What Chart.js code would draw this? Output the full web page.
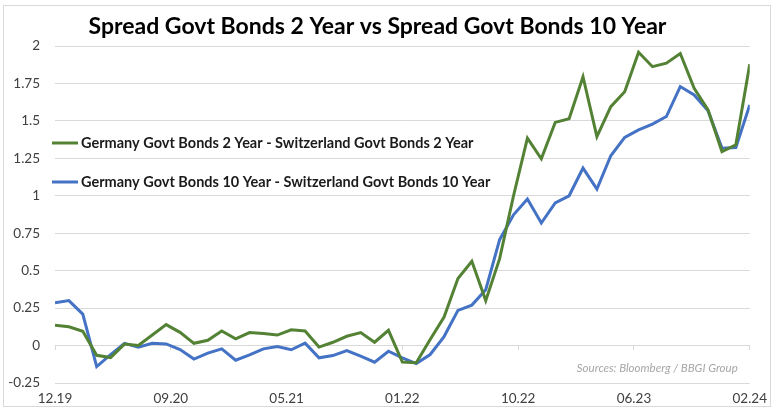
<!DOCTYPE html>
<html>
<head>
<meta charset="utf-8">
<script src="https://cdn.jsdelivr.net/npm/chart.js@4"></script>
<style>
  body { margin: 0; background: #fff; }
  .wrap { position: relative; width: 775px; height: 409px; }
  .frame { position: absolute; left: 3px; top: 5px; width: 768px; height: 402px; border: 1px solid #d9d9d9; box-sizing: border-box; pointer-events: none; }
</style>
</head>
<body>
<div class="wrap">
  <canvas id="spreads" width="775" height="409"></canvas>
  <div class="frame"></div>
</div>
<script>
// monthly, 12.19 ... 02.24
const xLabels = ['12.19', '09.20', '05.21', '01.22', '10.22', '06.23', '02.24'];
const seriesNames = [
  'Germany Govt Bonds 2 Year - Switzerland Govt Bonds 2 Year',
  'Germany Govt Bonds 10 Year - Switzerland Govt Bonds 10 Year'
];
const spread2y = [
  0.135, 0.125, 0.095, -0.065, -0.08, 0.01, 0.0, 0.07, 0.14, 0.088,
  0.015, 0.035, 0.097, 0.045, 0.087, 0.08, 0.07, 0.105, 0.097, -0.01,
  0.022, 0.062, 0.087, 0.022, 0.102, -0.11, -0.115, 0.04, 0.19, 0.447,
  0.563, 0.30, 0.58, 1.0, 1.385, 1.247, 1.49, 1.515, 1.795, 1.395,
  1.595, 1.695, 1.958, 1.862, 1.885, 1.95, 1.718, 1.573, 1.295, 1.34,
  1.878
];
const spread10y = [
  0.285, 0.30, 0.21, -0.14, -0.06, 0.015, -0.011, 0.015, 0.011, -0.027,
  -0.09, -0.05, -0.022, -0.098, -0.062, -0.022, -0.006, -0.028, 0.016, -0.082,
  -0.067, -0.033, -0.071, -0.111, -0.038, -0.082, -0.12, -0.06, 0.06, 0.235,
  0.27, 0.373, 0.707, 0.873, 0.978, 0.818, 0.953, 1.0, 1.185, 1.045,
  1.267, 1.39, 1.44, 1.478, 1.529, 1.729, 1.673, 1.567, 1.318, 1.322,
  1.607
];

const lastIdx = spread2y.length - 1;
const tickPos = xLabels.map((l, i) => i * lastIdx / (xLabels.length - 1));
const setTicks = function(scale) {
  scale.ticks = tickPos.map(v => ({ value: v }));
};
const toPoints = arr => arr.map((v, i) => ({ x: i, y: v }));

const font = 'Lato, "Open Sans", sans-serif';

// legend inside the plot + source note
const extras = {
  id: 'extras',
  afterDraw(chart) {
    const c = chart.ctx;
    const a = chart.chartArea;
    c.save();
    chart.data.datasets.forEach(function(ds, i) {
      const y = a.top + 97 + i * 39;
      c.strokeStyle = ds.borderColor;
      c.lineWidth = 3;
      c.beginPath();
      c.moveTo(a.left - 3, y);
      c.lineTo(a.left + 23, y);
      c.stroke();
      c.fillStyle = '#1a1a1a';
      c.font = 'bold 14.5px ' + font;
      c.textBaseline = 'middle';
      c.textAlign = 'left';
      c.fillText(ds.label, a.left + 26, y);
    });
    c.fillStyle = '#a6a6a6';
    c.font = 'italic 11.5px ' + font;
    c.textAlign = 'right';
    c.textBaseline = 'middle';
    c.fillText('Sources: Bloomberg / BBGI Group', a.right - 12, a.bottom - 15);
    c.restore();
  }
};

const ctx = document.getElementById('spreads').getContext('2d');
const spreads = new Chart(ctx, {
  type: 'line',
  data: {
    datasets: [{
      label: seriesNames[0],
      data: toPoints(spread2y),
      borderColor: '#548235',
      borderWidth: 3,
      pointRadius: 0,
      tension: 0
    }, {
      label: seriesNames[1],
      data: toPoints(spread10y),
      borderColor: '#4472c4',
      borderWidth: 3,
      pointRadius: 0,
      tension: 0
    }]
  },
  options: {
    responsive: false,
    animation: false,
    layout: { padding: { top: 0, right: 20, bottom: 2, left: 0 } },
    plugins: {
      legend: { display: false },
      tooltip: { enabled: false },
      title: {
        display: true,
        text: 'Spread Govt Bonds 2 Year vs Spread Govt Bonds 10 Year',
        color: '#000',
        font: { family: font, size: 23, weight: 'bold' },
        padding: { top: 13, bottom: 5.4 }
      }
    },
    scales: {
      x: {
        type: 'linear',
        min: 0,
        max: lastIdx,
        afterBuildTicks: setTicks,
        afterFit: function(scale) { scale.height = 24; },
        grid: { display: false, drawTicks: false },
        border: { display: false },
        ticks: {
          color: '#404040',
          font: { family: font, size: 13.5 },
          padding: 8,
          maxRotation: 0,
          autoSkip: false,
          callback: function(v) {
            return xLabels[tickPos.findIndex(p => Math.abs(p - v) < 0.01)];
          }
        }
      },
      xZero: {
        type: 'linear',
        position: { y: 0 },
        min: 0,
        max: lastIdx,
        afterBuildTicks: setTicks,
        grid: { drawOnChartArea: false, color: '#d9d9d9', tickLength: 4 },
        border: { color: '#d9d9d9' },
        ticks: { display: false }
      },
      y: {
        min: -0.25,
        max: 2,
        afterFit: function(scale) { scale.width = 55; },
        ticks: {
          stepSize: 0.25,
          color: '#404040',
          font: { family: font, size: 13.5 },
          padding: 15,
          callback: function(v) { return String(+v.toFixed(2)); }
        },
        grid: { color: '#d9d9d9', drawTicks: false },
        border: { display: false }
      }
    }
  },
  plugins: [extras]
});
</script>
</body>
</html>
